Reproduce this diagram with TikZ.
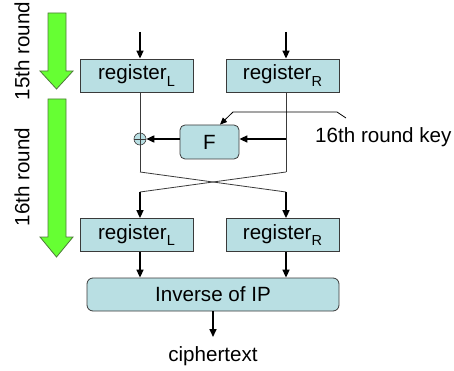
\documentclass[tikz,border=0pt]{standalone}
\usepackage{fontspec}
\setmainfont{Liberation Sans}
\usetikzlibrary{arrows.meta}
\definecolor{boxfill}{HTML}{B9DFE3}
\definecolor{gfill}{HTML}{66FF33}
\definecolor{gline}{HTML}{4E7A3A}
\definecolor{edge}{HTML}{3A3A3A}
\newcommand\regsub[1]{\raisebox{-0.32em}{\fontsize{14.5}{14.5}\selectfont #1}}
\begin{document}
\begin{tikzpicture}[x=1pt,y=-1pt,
  every node/.style={font=\fontsize{20.6}{24}\selectfont},
  reg/.style={draw=edge, fill=boxfill, line width=0.8pt, minimum width=113pt, minimum height=33pt, inner sep=0pt},
  fbox/.style={draw=edge, fill=boxfill, line width=0.8pt, rounded corners=5pt, minimum width=59pt, minimum height=34pt, inner sep=0pt},
  invbox/.style={draw=edge, fill=boxfill, line width=0.8pt, rounded corners=6pt, minimum width=252pt, minimum height=33pt, inner sep=0pt},
  xorn/.style={circle, draw=edge, fill=boxfill, line width=0.6pt, minimum size=12pt, inner sep=0pt,
     path picture={\draw[edge, line width=0.6pt] (path picture bounding box.north) -- (path picture bounding box.south)
       (path picture bounding box.west) -- (path picture bounding box.east);}},
  arr/.style={line width=1.6pt, -{Triangle[length=8pt,width=7pt]}},
  thinl/.style={line width=0.8pt, edge},
  garrow/.style={fill=gfill, draw=gline, line width=0.8pt}
]
\useasboundingbox (0,0) rectangle (454,371);

% green round arrows
\filldraw[garrow] (48,13) -- (66,13) -- (66,71) -- (73,71) -- (56.5,89) -- (40,71) -- (48,71) -- cycle;
\filldraw[garrow] (48,99) -- (66,99) -- (66,237) -- (73,237) -- (56.5,257) -- (40,237) -- (48,237) -- cycle;

\node[rotate=90] (r15) at (22,51) {15th round};
\node[rotate=90] (r16) at (22,177) {16th round};

% nodes
\node[reg] (rl1) at (136.5,75.5) {register\regsub{L}};
\node[reg] (rr1) at (282.5,75.5) {register\regsub{R}};
\node[fbox] (F) at (209.5,142) {F};
\node[xorn] (x) at (140,139) {};
\node[reg] (rl2) at (136.5,235) {register\regsub{L}};
\node[reg] (rr2) at (282.5,235) {register\regsub{R}};
\node[invbox] (inv) at (213,294.5) {Inverse of IP};
\node (ct) at (213,356) {ciphertext};
\node[anchor=west, inner sep=0pt] (key) at (315,137) {16th round key};

% helper coordinates
\coordinate (in1) at (140,32);
\coordinate (in2) at (286,32);
\coordinate (cl) at (140,172);
\coordinate (cr) at (286,172);
\coordinate (dl) at (140,192);
\coordinate (dr) at (286,192);
\coordinate (fa) at (286,139);
\coordinate (k1) at (346,118);
\coordinate (k2) at (337,112);
\coordinate (k3) at (233,112);
\coordinate (kt) at (220,125);
\coordinate (ce) at (213,337);

% inputs
\draw[arr] (in1) -- (in1 |- rl1.north);
\draw[arr] (in2) -- (in2 |- rr1.north);

% left path through xor
\draw[thinl] (rl1.south -| x) -- (x.north);
\draw[thinl] (x.south) -- (cl);
% right path
\draw[thinl] (rr1.south -| cr) -- (cr);
% cross
\draw[thinl] (cl) -- (dr);
\draw[thinl] (cr) -- (dl);

% F arrows
\draw[arr] (fa) -- (F.east |- fa);
\draw[arr] (F.west |- fa) -- (x.east);

% key
\draw[line width=0.8pt, -{Triangle[length=7pt,width=6pt]}] (k1) -- (k2) -- (k3) -- (F.north -| kt);

% down arrows
\draw[arr] (dl) -- (rl2.north -| dl);
\draw[arr] (dr) -- (rr2.north -| dr);
\draw[arr] (rl2.south -| dl) -- (inv.north -| dl);
\draw[arr] (rr2.south -| dr) -- (inv.north -| dr);
\draw[arr] (inv.south) -- (ce);
\end{tikzpicture}
\end{document}
